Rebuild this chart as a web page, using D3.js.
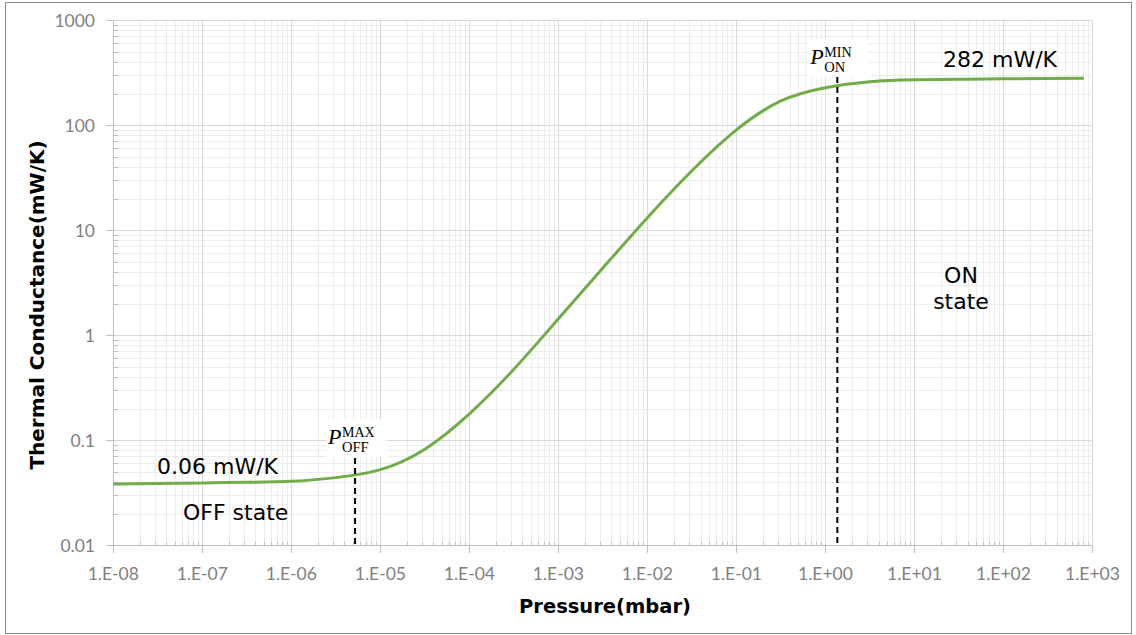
<!DOCTYPE html>
<html>
<head>
<meta charset="utf-8">
<script src="https://cdn.jsdelivr.net/npm/d3@7"></script>
<style>
  body { margin: 0; background: #fff; }
</style>
</head>
<body>
<svg id="chart" width="1136" height="635"></svg>
<script>
// pressure (mbar) and thermal conductance (mW/K)
var pressure = [1e-8, 3.16e-8, 1e-7, 3.16e-7, 1e-6, 3.16e-6, 1e-5, 3.16e-5, 1e-4, 3.16e-4,
                1e-3, 3.16e-3, 1e-2, 3.16e-2, 0.1, 0.316, 1, 3.16, 10, 31.6, 100, 316, 800]
var conductance = [0.0387, 0.0392, 0.0396, 0.0402, 0.041, 0.0445, 0.053, 0.083, 0.18, 0.479,
                   1.45, 4.42, 13.3, 37.2, 91.2, 172, 230, 262, 273.5, 277, 280, 282, 283]

var xTickLabels = ['1.E-08', '1.E-07', '1.E-06', '1.E-05', '1.E-04', '1.E-03', '1.E-02',
                   '1.E-01', '1.E+00', '1.E+01', '1.E+02', '1.E+03']
var yTickLabels = ['0.01', '0.1', '1', '10', '100', '1000']

var markerPressure = [5.2e-6, 1.36]
var markerSub = ['OFF', 'ON']
var markerSup = ['MAX', 'MIN']

var colorLine = '#70ad47'
var colorMajor = '#d9d9d9'
var colorMinor = '#ececec'
var colorAxis = '#bfbfbf'
var colorTick = '#7f7f7f'

//
// Layout
//

var svg = d3.select('#chart')
var plotLeft = 113.3, plotRight = 1092.5, plotTop = 20.7, plotBottom = 545.7

var x = d3.scaleLog().domain([1e-8, 1e3]).range([plotLeft, plotRight])
var y = d3.scaleLog().domain([0.01, 1000]).range([plotBottom, plotTop])

var xMajor = d3.range(-8, 4).map(function (e) { return Math.pow(10, e) })
var yMajor = d3.range(-2, 4).map(function (e) { return Math.pow(10, e) })
function minors(major) {
    var out = []
    major.slice(0, -1).forEach(function (m) {
        for (var k = 2; k < 10; k++) out.push(m * k)
    })
    return out
}
var xMinor = minors(xMajor)
var yMinor = minors(yMajor)

// outer frame
svg.append('rect')
    .attr('x', 5.5).attr('y', 2.5).attr('width', 1126).attr('height', 631)
    .attr('fill', '#fff').attr('stroke', '#8c8c8c').attr('stroke-width', 1)

//
// Grid
//

var grid = svg.append('g').attr('shape-rendering', 'crispEdges')
grid.selectAll('.vminor').data(xMinor).enter().append('line')
    .attr('x1', x).attr('x2', x).attr('y1', plotTop).attr('y2', plotBottom)
    .attr('stroke', colorMinor)
grid.selectAll('.hminor').data(yMinor).enter().append('line')
    .attr('y1', y).attr('y2', y).attr('x1', plotLeft).attr('x2', plotRight)
    .attr('stroke', colorMinor)
grid.selectAll('.vmajor').data(xMajor).enter().append('line')
    .attr('x1', x).attr('x2', x).attr('y1', plotTop).attr('y2', plotBottom)
    .attr('stroke', colorMajor)
grid.selectAll('.hmajor').data(yMajor).enter().append('line')
    .attr('y1', y).attr('y2', y).attr('x1', plotLeft).attr('x2', plotRight)
    .attr('stroke', colorMajor)

//
// Axes
//

var axes = svg.append('g').attr('shape-rendering', 'crispEdges')
axes.append('line').attr('x1', plotLeft).attr('x2', plotLeft).attr('y1', plotTop).attr('y2', plotBottom).attr('stroke', colorAxis)
axes.append('line').attr('x1', plotLeft).attr('x2', plotRight).attr('y1', plotBottom).attr('y2', plotBottom).attr('stroke', colorAxis)

axes.selectAll('.yt').data(yMajor).enter().append('line')
    .attr('x1', plotLeft - 7).attr('x2', plotLeft).attr('y1', y).attr('y2', y).attr('stroke', colorAxis)
axes.selectAll('.ytm').data(yMinor).enter().append('line')
    .attr('x1', plotLeft).attr('x2', plotLeft + 5).attr('y1', y).attr('y2', y).attr('stroke', colorAxis)
axes.selectAll('.xt').data(xMajor).enter().append('line')
    .attr('x1', x).attr('x2', x).attr('y1', plotBottom).attr('y2', plotBottom + 7).attr('stroke', colorAxis)
axes.selectAll('.xtm').data(xMinor).enter().append('line')
    .attr('x1', x).attr('x2', x).attr('y1', plotBottom - 4).attr('y2', plotBottom).attr('stroke', colorAxis)

svg.selectAll('.ylab').data(yMajor).enter().append('text')
    .attr('x', 95).attr('y', function (d) { return y(d) + 6 })
    .attr('text-anchor', 'end')
    .attr('font-family', 'Lato, "Open Sans", sans-serif').attr('font-size', 17.5)
    .attr('fill', colorTick)
    .text(function (d, i) { return yTickLabels[i] })

svg.selectAll('.xlab').data(xMajor).enter().append('text')
    .attr('x', x).attr('y', 580)
    .attr('text-anchor', 'middle')
    .attr('font-family', 'Lato, "Open Sans", sans-serif').attr('font-size', 17.5)
    .attr('fill', colorTick)
    .text(function (d, i) { return xTickLabels[i] })

svg.append('text')
    .attr('x', 605).attr('y', 613)
    .attr('text-anchor', 'middle')
    .attr('font-family', '"DejaVu Sans", Verdana, sans-serif').attr('font-weight', 'bold')
    .attr('font-size', 19.5)
    .text('Pressure(mbar)')

svg.append('text')
    .attr('transform', 'translate(44,305) rotate(-90)')
    .attr('text-anchor', 'middle')
    .attr('font-family', '"DejaVu Sans", Verdana, sans-serif').attr('font-weight', 'bold')
    .attr('font-size', 20)
    .text('Thermal Conductance(mW/K)')

//
// Curve
//

var line = d3.line()
    .x(function (d) { return x(d[0]) })
    .y(function (d) { return y(d[1]) })
    .curve(d3.curveNatural)

svg.append('path')
    .datum(d3.zip(pressure, conductance))
    .attr('d', line)
    .attr('fill', 'none')
    .attr('stroke', colorLine)
    .attr('stroke-width', 3)

//
// Markers
//

var markerTop = [458, 77]
var labelBase = [444, 64]

markerPressure.forEach(function (p, i) {
    var mx = x(p)
    svg.append('line')
        .attr('x1', mx).attr('x2', mx).attr('y1', markerTop[i]).attr('y2', plotBottom)
        .attr('stroke', '#000').attr('stroke-width', 2).attr('stroke-dasharray', '6,4')

    var g = svg.append('g')
    var by = labelBase[i]
    g.append('rect')
        .attr('x', mx - 29).attr('y', by - 25).attr('width', 61).attr('height', 38)
        .attr('fill', '#fff')
    g.append('text').attr('x', mx - 27).attr('y', by)
        .attr('font-family', '"Liberation Serif", "Times New Roman", serif')
        .attr('font-style', 'italic').attr('font-size', 22).text('P')
    var px = mx - 13
    g.append('text').attr('x', px).attr('y', by - 7)
        .attr('font-family', '"Liberation Serif", "Times New Roman", serif')
        .attr('font-size', 14).text(markerSup[i])
    g.append('text').attr('x', px).attr('y', by + 8)
        .attr('font-family', '"Liberation Serif", "Times New Roman", serif')
        .attr('font-size', 14.5).text(markerSub[i])
})

//
// Annotations
//

var notes = [
    ['0.06 mW/K', 157, 474, 'start'],
    ['OFF state', 183, 520, 'start'],
    ['282 mW/K', 943, 67, 'start'],
    ['ON', 961, 283, 'middle'],
    ['state', 961, 309, 'middle']
]
svg.selectAll('.note').data(notes).enter().append('text')
    .attr('x', function (d) { return d[1] })
    .attr('y', function (d) { return d[2] })
    .attr('text-anchor', function (d) { return d[3] })
    .attr('font-family', '"DejaVu Sans", Verdana, sans-serif')
    .attr('font-size', 22)
    .attr('fill', '#000')
    .text(function (d) { return d[0] })
</script>
</body>
</html>
